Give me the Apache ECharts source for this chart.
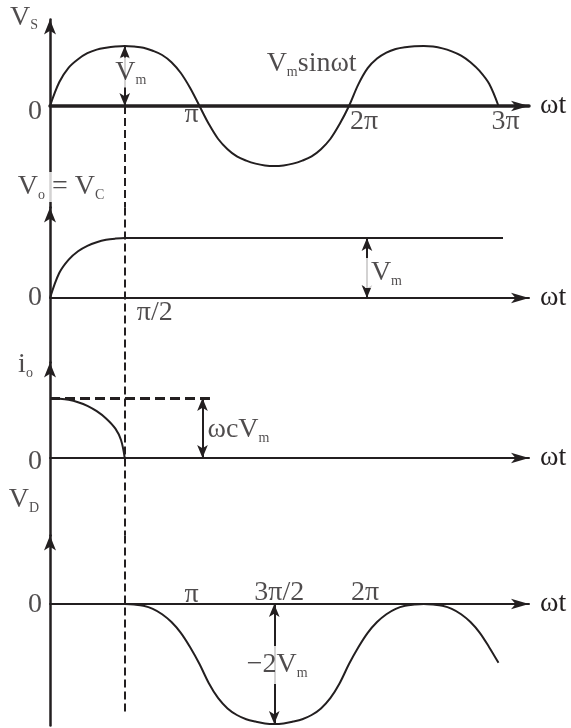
<!DOCTYPE html>
<html>
<head>
<meta charset="utf-8">
<script src="https://cdn.jsdelivr.net/npm/echarts@6/dist/echarts.min.js"></script>
<style>
  html, body { margin: 0; padding: 0; background: #fff; }
  #chart { width: 571px; height: 728px; }
</style>
</head>
<body>
<div id="chart"></div>
<script>
// Phase ωt is expressed in multiples of π; amplitudes in multiples of Vm
// (the capacitor current in multiples of ωCVm).

// Source voltage Vs = Vm sin ωt over three half cycles
const vsPhase = [0, 0.0625, 0.125, 0.1875, 0.25, 0.3125, 0.375, 0.4375, 0.5,
                 0.5625, 0.625, 0.6875, 0.75, 0.8125, 0.875, 0.9375, 1,
                 1.0625, 1.125, 1.1875, 1.25, 1.3125, 1.375, 1.4375, 1.5,
                 1.5625, 1.625, 1.6875, 1.75, 1.8125, 1.875, 1.9375, 2,
                 2.0625, 2.125, 2.1875, 2.25, 2.3125, 2.375, 2.4375, 2.5,
                 2.5625, 2.625, 2.6875, 2.75, 2.8125, 2.875, 2.9375, 3];
const vsValue = [0, 0.4, 0.64, 0.78, 0.88, 0.94, 0.97, 0.99, 1,
                 0.99, 0.97, 0.92, 0.85, 0.73, 0.55, 0.3, 0,
                 -0.3, -0.55, -0.72, -0.84, -0.91, -0.96, -0.99, -1,
                 -0.99, -0.96, -0.91, -0.84, -0.72, -0.55, -0.3, 0,
                 0.36, 0.63, 0.79, 0.89, 0.95, 0.98, 0.995, 1,
                 0.99, 0.96, 0.91, 0.84, 0.73, 0.58, 0.37, 0];

// Output (capacitor) voltage: charges up to Vm by π/2 and then holds
const vcPhase = [0, 0.0625, 0.125, 0.1875, 0.25, 0.3125, 0.375, 0.4375, 0.5, 3.03];
const vcValue = [0, 0.42, 0.64, 0.78, 0.87, 0.93, 0.97, 0.99, 1, 1];

// Charging current: flows only during the first quarter cycle
const ioPhase = [0, 0.0625, 0.125, 0.1875, 0.25, 0.3125, 0.375, 0.4375, 0.475, 0.5];
const ioValue = [1, 0.99, 0.97, 0.93, 0.87, 0.78, 0.66, 0.49, 0.3, 0];
const ioPeakSpan = [0, 1.07];

// Diode voltage VD = Vs − Vm after the capacitor is charged
const vdPhase = [0.5, 0.5625, 0.625, 0.6875, 0.75, 0.8125, 0.875, 0.9375, 1,
                 1.0625, 1.125, 1.1875, 1.25, 1.3125, 1.375, 1.4375, 1.5,
                 1.5625, 1.625, 1.6875, 1.75, 1.8125, 1.875, 1.9375, 2,
                 2.0625, 2.125, 2.1875, 2.25, 2.3125, 2.375, 2.4375, 2.5,
                 2.5625, 2.625, 2.6875, 2.75, 2.8125, 2.875, 2.9375, 3];
const vdValue = [0, -0.01, -0.03, -0.08, -0.17, -0.3, -0.48, -0.72, -1,
                 -1.32, -1.57, -1.74, -1.85, -1.92, -1.96, -1.99, -2,
                 -1.99, -1.96, -1.92, -1.85, -1.74, -1.57, -1.32, -1,
                 -0.72, -0.48, -0.3, -0.17, -0.08, -0.03, -0.01, 0,
                 -0.01, -0.03, -0.08, -0.17, -0.3, -0.48, -0.72, -0.98];

// Tick marks along ωt
const vsTickValues = [1, 2, 3];
const vsTickLabels = ['π', '2π', '3π'];
const vcTickValues = [0.5];
const vcTickLabels = ['π/2'];
const vdTickValues = [1, 1.5, 2];
const vdTickLabels = ['π', '3π/2', '2π'];

// Phase of the π/2 guide and of the dimension arrows
const guidePhase = 0.5;
const vcArrowPhase = 2.12;
const ioArrowPhase = 1.02;
const vdArrowPhase = 1.5;
const vdArrowDepth = -2;

// ---------- layout ----------
const INK = '#231f20';
const FONT = "'Liberation Serif', 'Times New Roman', serif";
const X0 = 50, X_END = 529, PX_PER_PI = 149.5, PX_PER_UNIT = 60;
const xMax = (X_END - X0) / PX_PER_PI;

const panels = [
  { zero: 106, top: 19.5, bottom: 207.5, axisWidth: 3.5 },
  { zero: 298, top: 207.5, bottom: 362.5, axisWidth: 2 },
  { zero: 458, top: 362.5, bottom: 535.5, axisWidth: 2 },
  { zero: 604, top: 535.5, bottom: 725.5, axisWidth: 2 }
];
panels.forEach(p => {
  p.yMax = (p.zero - p.top) / PX_PER_UNIT;
  p.yMin = -(p.bottom - p.zero) / PX_PER_UNIT;
});

const rich = {
  v: { fontFamily: FONT, fontSize: 28, color: INK, lineHeight: 30 },
  s: { fontFamily: FONT, fontSize: 14, color: INK, lineHeight: 7, verticalAlign: 'bottom' }
};

const grids = panels.map(p => ({ left: X0, width: X_END - X0, top: p.top, height: p.bottom - p.top }));

const xAxes = panels.map((p, i) => ({
  type: 'value', gridIndex: i, min: 0, max: xMax,
  axisLine: { show: true, onZero: true, symbol: ['none', 'arrow'], symbolSize: [8, 18],
              lineStyle: { color: INK, width: p.axisWidth } },
  axisTick: { show: false }, axisLabel: { show: false }, splitLine: { show: false },
  name: 'ωt', nameLocation: 'end', nameGap: 11,
  nameTextStyle: { fontFamily: FONT, fontSize: 28, color: INK, verticalAlign: 'middle', padding: [0, 0, 9, 0] }
}));

const yAxes = panels.map((p, i) => ({
  type: 'value', gridIndex: i, min: p.yMin, max: p.yMax,
  axisLine: { show: true, onZero: false, symbol: ['none', 'arrow'], symbolSize: [9, 15],
              lineStyle: { color: INK, width: 2.5 } },
  axisTick: { show: false }, axisLabel: { show: false }, splitLine: { show: false }
}));

const pair = (xs, ys) => xs.map((x, k) => [x, ys[k]]);

const dashed = { type: [8, 4], width: 2, color: INK };
function segment(from, to, lineStyle, arrows) {
  const end = arrows ? 'arrow' : 'none';
  return [
    { coord: from, symbol: end, symbolSize: [8, 13], lineStyle: lineStyle },
    { coord: to, symbol: end, symbolSize: [8, 13] }
  ];
}
function marks(data) {
  return {
    silent: true, animation: false, symbol: 'none',
    label: { show: false }, emphasis: { disabled: true },
    lineStyle: { color: INK, width: 2, type: 'solid' },
    data: data
  };
}

function curve(i, xs, ys, markData) {
  return {
    type: 'line', xAxisIndex: i, yAxisIndex: i, data: pair(xs, ys),
    smooth: 0.35, symbol: 'none', clip: false, silent: true, animation: false,
    lineStyle: { color: INK, width: 2 },
    markLine: marks(markData)
  };
}

function text(x, y, formatter, offset, extra) {
  return { value: [x, y], label: Object.assign({ formatter: formatter, offset: offset || [0, 0] }, extra || {}) };
}
function ticks(values, labels, offsets) {
  return values.map((v, k) => text(v, 0, '{v|' + labels[k] + '}', offsets[k]));
}
function annotations(i, data) {
  return {
    type: 'scatter', xAxisIndex: i, yAxisIndex: i, symbolSize: 0, silent: true,
    clip: false, animation: false, z: 5,
    label: { show: true, position: 'inside', rich: rich },
    data: data
  };
}

const P = panels;
const series = [
  // Vs
  curve(0, vsPhase, vsValue, [
    segment([guidePhase, 0], [guidePhase, P[0].yMin], dashed, false),
    segment([guidePhase, 0], [guidePhase, 1], null, true)
  ]),
  annotations(0, [
    text(0, P[0].yMax, '{v|V}{s|S}', [-26, -2]),
    text(0, 0, '{v|0}', [-15, 6]),
    ...ticks(vsTickValues, vsTickLabels, [[-8, 9], [15, 15.5], [7, 16]]),
    text(guidePhase, 0.5, '{v|V}{s|m}', [6, -3.5], { backgroundColor: '#fff' }),
    text(1.75, 0.7, '{v|V}{s|m}{v|sinωt}', [0, 0])
  ]),
  // Vo = Vc
  curve(1, vcPhase, vcValue, [
    segment([guidePhase, P[1].yMax], [guidePhase, P[1].yMin], dashed, false),
    segment([vcArrowPhase, 0], [vcArrowPhase, 1], null, true)
  ]),
  annotations(1, [
    text(0, P[1].yMax, '{v|V}{s|o}{v| = V}{s|C}', [11, -20.5], { backgroundColor: '#fff', padding: [0, 1] }),
    text(0, 0, '{v|0}', [-15, 0]),
    ...ticks(vcTickValues, vcTickLabels, [[30, 15]]),
    text(vcArrowPhase, 0.5, '{v|V}{s|m}', [16.5, 5], { backgroundColor: '#fff', padding: [0, 0, 0, 6] })
  ]),
  // io
  curve(2, ioPhase, ioValue, [
    segment([guidePhase, P[2].yMax], [guidePhase, P[2].yMin], dashed, false),
    segment([ioPeakSpan[0], 1], [ioPeakSpan[1], 1], { type: [10, 5], width: 3, color: INK }, false),
    segment([ioArrowPhase, 0], [ioArrowPhase, 1], null, true)
  ]),
  annotations(2, [
    text(0, P[2].yMax, '{v|i}{s|o}', [-24.5, 2.5]),
    text(0, 0, '{v|0}', [-15, 3.5]),
    text(ioArrowPhase, 0.5, '{v|ωcV}{s|m}', [36, 2])
  ]),
  // VD
  curve(3, vdPhase, vdValue, [
    segment([guidePhase, P[3].yMax], [guidePhase, -1.85], dashed, false),
    segment([vdArrowPhase, 0], [vdArrowPhase, vdArrowDepth], null, true)
  ]),
  annotations(3, [
    text(0, P[3].yMax, '{v|V}{s|D}', [-26, -35.5]),
    text(0, 0, '{v|0}', [-15, 1]),
    ...ticks(vdTickValues, vdTickLabels, [[-8, -9.4], [5, -11], [16, -11]]),
    text(vdArrowPhase, vdArrowDepth / 2, '{v|−2V}{s|m}', [3, 1], { backgroundColor: '#fff', padding: [4, 0] })
  ])
];

const chart = echarts.init(document.getElementById('chart'), null, { renderer: 'canvas' });
chart.setOption({
  animation: false,
  backgroundColor: '#fff',
  grid: grids,
  xAxis: xAxes,
  yAxis: yAxes,
  series: series
});
</script>
</body>
</html>
